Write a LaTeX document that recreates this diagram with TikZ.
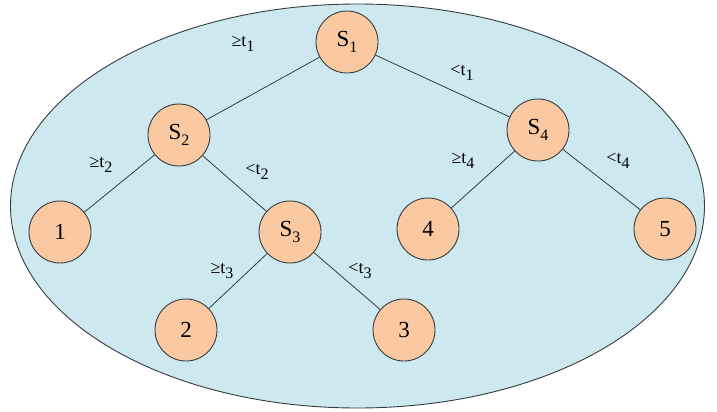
\documentclass[tikz,border=0pt]{standalone}
\usepackage{fontspec}
\setmainfont{Liberation Serif}
\definecolor{bgblue}{RGB}{206,232,240}
\definecolor{peach}{RGB}{251,201,161}
\definecolor{edgegray}{RGB}{50,60,65}
\tikzset{
  tnode/.style={circle, draw=edgegray, line width=0.9pt, fill=peach, minimum size=62pt, inner sep=0pt, font=\fontsize{23}{23}\selectfont},
  tedge/.style={draw=edgegray, line width=0.8pt},
  tlabel/.style={font=\fontsize{18}{18}\selectfont, inner sep=0pt}
}
\newcommand{\sbs}[1]{\raisebox{-0.25em}{\fontsize{16}{16}\selectfont #1}}
\begin{document}
\begin{tikzpicture}[x=1pt,y=-1pt]
\useasboundingbox (0,0) rectangle (717,412);
\draw[fill=bgblue, draw=edgegray, line width=0.9pt] (357.5,206) ellipse [x radius=347, y radius=202];
\node[tnode] (s1) at (347,42) {S\sbs{1}};
\node[tnode] (s2) at (179,135) {S\sbs{2}};
\node[tnode] (s3) at (290,232) {S\sbs{3}};
\node[tnode] (s4) at (538,130) {S\sbs{4}};
\node[tnode] (n1) at (60,232) {1};
\node[tnode] (n2) at (186,330) {2};
\node[tnode] (n3) at (404,330) {3};
\node[tnode] (n4) at (428,229) {4};
\node[tnode] (n5) at (665,229) {5};
\draw[tedge] (s1) -- (s2);
\draw[tedge] (s1) -- (s4);
\draw[tedge] (s2) -- (n1);
\draw[tedge] (s2) -- (s3);
\draw[tedge] (s3) -- (n2);
\draw[tedge] (s3) -- (n3);
\draw[tedge] (s4) -- (n4);
\draw[tedge] (s4) -- (n5);
\node[tlabel] (l1) at (243,44) {≥t\sbs{1}};
\node[tlabel] (l2) at (462,73) {<t\sbs{1}};
\node[tlabel] (l3) at (101,165) {≥t\sbs{2}};
\node[tlabel] (l4) at (257,172) {<t\sbs{2}};
\node[tlabel] (l5) at (222,271) {≥t\sbs{3}};
\node[tlabel] (l6) at (360,271) {<t\sbs{3}};
\node[tlabel] (l7) at (463,161) {≥t\sbs{4}};
\node[tlabel] (l8) at (618,161) {<t\sbs{4}};
\end{tikzpicture}
\end{document}
